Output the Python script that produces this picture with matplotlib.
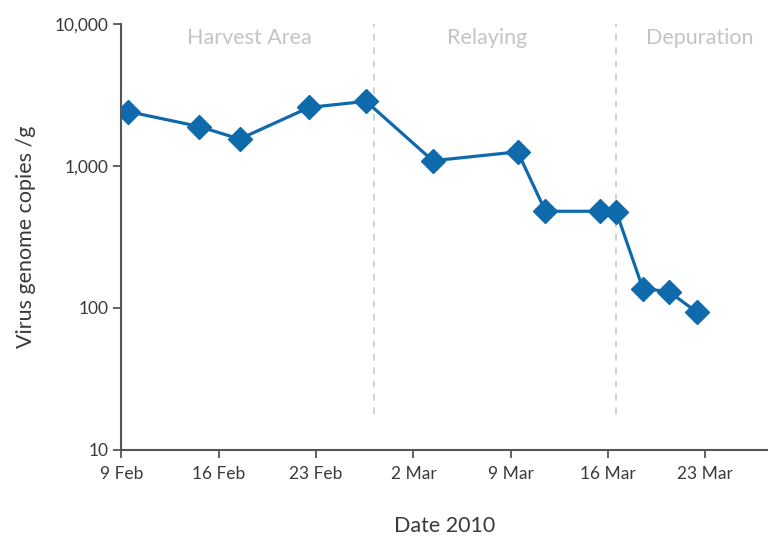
import matplotlib.pyplot as plt
import numpy as np

# days after 9 Feb 2010 and virus copies per gram
days = [0.5, 5.6, 8.5, 13.5, 17.6, 22.4, 28.5, 30.5, 34.4, 35.6, 37.5, 39.4, 41.4]
copies = [2420, 1900, 1550, 2590, 2860, 1090, 1260, 480, 480, 473, 137, 130, 93]

tick_days = [0, 7, 14, 21, 28, 35, 42]
tick_labels = ['9 Feb', '16 Feb', '23 Feb', '2 Mar', '9 Mar', '16 Mar', '23 Mar']
y_ticks = [10, 100, 1000, 10000]
y_labels = ['10', '100', '1,000', '10,000']

phase_names = ['Harvest Area', 'Relaying', 'Depuration']
phase_centres = [9.2, 26.3, 41.6]
phase_breaks = [18.2, 35.6]

plt.rcParams['font.family'] = ['Lato', 'DejaVu Sans']

fig = plt.figure(figsize=(7.68, 5.38), dpi=100)
ax = fig.add_axes([0.158, 0.164, 0.842, 0.791])

blue = '#0f6aab'
grey_txt = '#3a3a3a'

for b in phase_breaks:
    ax.vlines(b, 17.8, 10000, colors='#c8c8c8', linestyles=(0, (4, 4)), linewidth=1.2)

ax.plot(days, copies, color=blue, linewidth=2.3, marker='D', markersize=12,
        markerfacecolor=blue, markeredgecolor=blue, zorder=3)

for name, c in zip(phase_names, phase_centres):
    ax.text(c, 8000, name, ha='center', va='center', fontsize=15.5, color='#c4c4c4')

ax.set_yscale('log')
ax.set_ylim(10, 10000)
ax.set_xlim(0, 46.5)
ax.set_yticks(y_ticks)
ax.set_yticklabels(y_labels)
ax.yaxis.set_minor_locator(plt.NullLocator())
ax.set_xticks(tick_days)
ax.set_xticklabels(tick_labels)

for s in ['top', 'right']:
    ax.spines[s].set_visible(False)
for s in ['left', 'bottom']:
    ax.spines[s].set_color('#555555')
    ax.spines[s].set_linewidth(1.5)

ax.tick_params(axis='both', direction='out', length=6, width=1.3, color='#555555',
               labelsize=12.5, labelcolor=grey_txt)
ax.tick_params(axis='x', pad=6)

ax.set_xlabel('Date 2010', fontsize=15.5, color=grey_txt, labelpad=24)
ax.set_ylabel('Virus genome copies /g', fontsize=15.5, color=grey_txt, labelpad=13)

fig.savefig('out.png', dpi=100)
